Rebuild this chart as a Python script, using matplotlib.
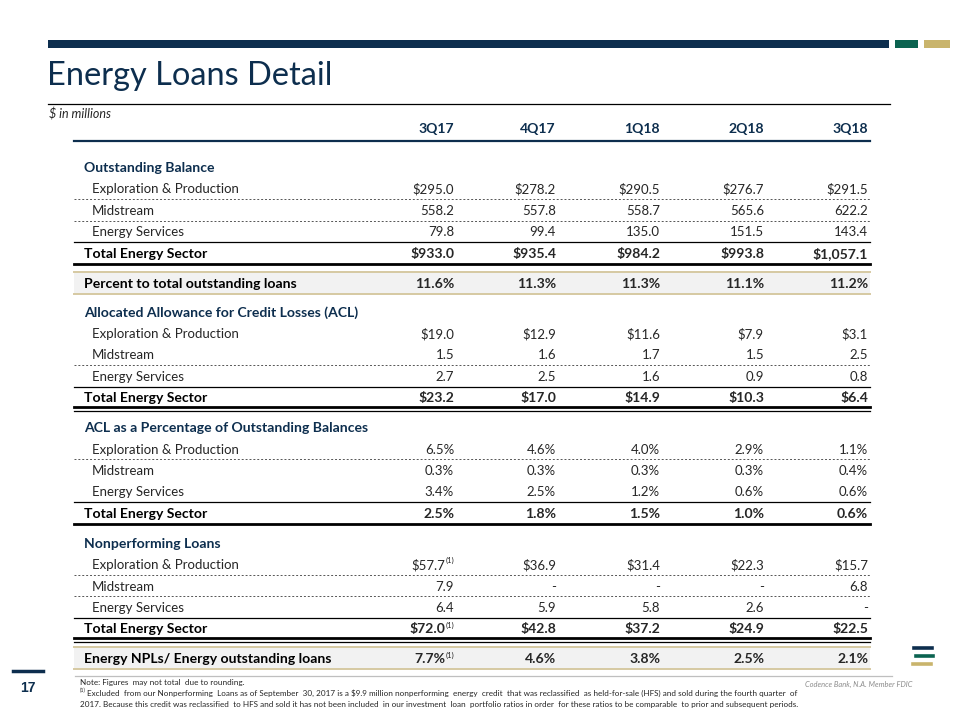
import matplotlib
matplotlib.use('Agg')
import matplotlib.pyplot as plt

plt.rcParams['font.family'] = ['Lato', 'DejaVu Sans']

# data
quarters = ['3Q17', '4Q17', '1Q18', '2Q18', '3Q18']
segments = ['Exploration & Production', 'Midstream', 'Energy Services']

balance_ep = [295.0, 278.2, 290.5, 276.7, 291.5]
balance_mid = [558.2, 557.8, 558.7, 565.6, 622.2]
balance_es = [79.8, 99.4, 135.0, 151.5, 143.4]
balance_total = [933.0, 935.4, 984.2, 993.8, 1057.1]
pct_of_loans = [11.6, 11.3, 11.3, 11.1, 11.2]

acl_ep = [19.0, 12.9, 11.6, 7.9, 3.1]
acl_mid = [1.5, 1.6, 1.7, 1.5, 2.5]
acl_es = [2.7, 2.5, 1.6, 0.9, 0.8]
acl_total = [23.2, 17.0, 14.9, 10.3, 6.4]

aclpct_ep = [6.5, 4.6, 4.0, 2.9, 1.1]
aclpct_mid = [0.3, 0.3, 0.3, 0.3, 0.4]
aclpct_es = [3.4, 2.5, 1.2, 0.6, 0.6]
aclpct_total = [2.5, 1.8, 1.5, 1.0, 0.6]

npl_ep = [57.7, 36.9, 31.4, 22.3, 15.7]
npl_mid = [7.9, None, None, None, 6.8]
npl_es = [6.4, 5.9, 5.8, 2.6, None]
npl_total = [72.0, 42.8, 37.2, 24.9, 22.5]
npl_ratio = [7.7, 4.6, 3.8, 2.5, 2.1]

# cells flagged with footnote (1): (row name, column index)
footnoted = {('npl_ep', 0), ('npl_total', 0), ('npl_ratio', 0)}

NAVY = '#0d2e4e'
GREEN = '#0b6350'
GOLD = '#c9b46c'
BAND = '#f2f2f2'
BANDLINE = '#d6c9a2'
TXT = '#262626'
VA = 'center_baseline'

fig = plt.figure(figsize=(9.6, 7.2), dpi=100)
ax = fig.add_axes([0, 0, 1, 1])
ax.set_xlim(0, 960)
ax.set_ylim(720, 0)
ax.axis('off')

# header decoration
ax.fill_between([48, 889], 40, 48, color=NAVY, lw=0)
ax.fill_between([895, 918], 40, 48, color=GREEN, lw=0)
ax.fill_between([924, 950], 40, 48, color=GOLD, lw=0)
ax.text(47, 76, 'Energy Loans Detail', fontsize=23.4, color=NAVY, va='center', ha='left')
ax.plot([48, 890], [104, 104], color='black', lw=0.9)
ax.text(49, 113, '$ in millions', fontsize=9, style='italic', color=TXT, va=VA)

x0, x1 = 74, 870
col_x = [454, 556, 660, 764, 868]
lab_x = 84
sub_x = 92
fs = 9.5
bfs = 10.1

for q, cx in zip(quarters, col_x):
    ax.text(cx, 128, q, fontsize=bfs, fontweight='bold', color=NAVY, ha='right', va=VA)
ax.plot([x0, x1], [141, 141], color=NAVY, lw=1.6)


def fmt(v, dollar, pct):
    if v is None:
        return '-'
    s = '{:,.1f}'.format(v)
    if dollar:
        s = '$' + s
    if pct:
        s = s + '%'
    return s


def value_row(y, key, vals, dollar=False, pct=False, bold=False):
    for i, (v, cx) in enumerate(zip(vals, col_x)):
        s = fmt(v, dollar, pct)
        if (key, i) in footnoted:
            ax.text(cx, y - 4, '(1)', fontsize=5.5, color=TXT, ha='right', va=VA)
            cx = cx - 9
        ax.text(cx, y, s, fontsize=bfs if bold else fs, color=TXT, ha='right', va=VA,
                fontweight='bold' if bold else 'normal')


def hline(y, **kw):
    ax.plot([x0, x1], [y, y], **kw)


dot = dict(color='#555555', lw=0.7, ls=(0, (2, 2)))
thin = dict(color='black', lw=0.9)
thick = dict(color='black', lw=2.0)

step = 21.4
sections = [
    ('Outstanding Balance', [('balance_ep', balance_ep), ('balance_mid', balance_mid), ('balance_es', balance_es)],
     ('balance_total', balance_total), True, False, [0, 1], 'single'),
    ('Allocated Allowance for Credit Losses (ACL)', [('acl_ep', acl_ep), ('acl_mid', acl_mid), ('acl_es', acl_es)],
     ('acl_total', acl_total), True, False, [1], 'double'),
    ('ACL as a Percentage of Outstanding Balances', [('aclpct_ep', aclpct_ep), ('aclpct_mid', aclpct_mid), ('aclpct_es', aclpct_es)],
     ('aclpct_total', aclpct_total), False, True, [0], 'single'),
    ('Nonperforming Loans', [('npl_ep', npl_ep), ('npl_mid', npl_mid), ('npl_es', npl_es)],
     ('npl_total', npl_total), True, False, [0, 1], 'double'),
]
band_rows = {0: ('Percent to total outstanding loans', 'pct_of_loans', pct_of_loans),
             3: ('Energy NPLs/ Energy outstanding loans', 'npl_ratio', npl_ratio)}


def band(y, label, key, vals):
    ax.fill_between([x0, x1], y - 11, y + 11, color=BAND, lw=0)
    hline(y - 11, color=BANDLINE, lw=1.4)
    hline(y + 11, color=BANDLINE, lw=1.4)
    ax.text(lab_x, y, label, fontsize=bfs, fontweight='bold', color='black', va=VA)
    value_row(y, key, vals, pct=True, bold=True)


y = 167
for si, (title, rows, total, dollar, pct, dots, below) in enumerate(sections):
    ax.text(lab_x, y, title, fontsize=bfs, fontweight='bold', color=NAVY, va=VA)
    for ri, (key, vals) in enumerate(rows):
        yr = y + step * (ri + 1)
        ax.text(sub_x, yr, segments[ri], fontsize=fs, color=TXT, va=VA)
        value_row(yr, key, vals, dollar=dollar and ri == 0, pct=pct)
        if ri in dots:
            hline(yr + step / 2, **dot)
    yt = y + step * 4
    hline(yt - 10.5, **thin)
    ax.text(lab_x, yt, 'Total Energy Sector', fontsize=bfs, fontweight='bold', color='black', va=VA)
    tkey, tvals = total
    value_row(yt, tkey, tvals, dollar=dollar, pct=pct, bold=True)
    if below == 'single':
        hline(yt + 11, **thick)
    else:
        hline(yt + 10, **thick)
        hline(yt + 13.5, **thin)
    y = yt + 30
    if si in band_rows:
        label, key, vals = band_rows[si]
        band(y, label, key, vals)
        y = y + 29

# footer
ax.plot([75, 892], [676, 676], color='#bfbfbf', lw=0.9)
ax.plot([13, 43], [671, 671], color=NAVY, lw=2.5)
ax.text(28, 688, '17', fontsize=10, fontweight='bold', color=NAVY, ha='center', va='center',
        family=['Liberation Sans', 'DejaVu Sans'])
nfs = 5.9
ax.text(80, 682, 'Note: Figures  may not total  due to rounding.', fontsize=nfs, color=TXT, va=VA)
ax.text(80, 690, '(1)', fontsize=4, color=TXT, va=VA)
ax.text(87, 693, 'Excluded  from our Nonperforming  Loans as of September  30, 2017 is a $9.9 million nonperforming  '
        'energy  credit  that was reclassified  as held-for-sale (HFS) and sold during the fourth quarter  of',
        fontsize=nfs, color=TXT, va=VA)
ax.text(80, 704, '2017. Because this credit was reclassified  to HFS and sold it has not been included  in our investment  '
        'loan  portfolio ratios in order  for these ratios to be comparable  to prior and subsequent periods.',
        fontsize=nfs, color=TXT, va=VA)
ax.text(912, 684, 'Codence Bank, N.A. Member FDIC', fontsize=5.4, style='italic', color='#8c8c8c',
        ha='right', va=VA)

# small logo
ax.plot([914, 932], [648, 648], color=NAVY, lw=2.6)
ax.plot([916, 933], [656, 656], color=GREEN, lw=2.6)
ax.plot([913, 931], [664, 664], color=GOLD, lw=2.6)

fig.savefig('out.png', dpi=100)
